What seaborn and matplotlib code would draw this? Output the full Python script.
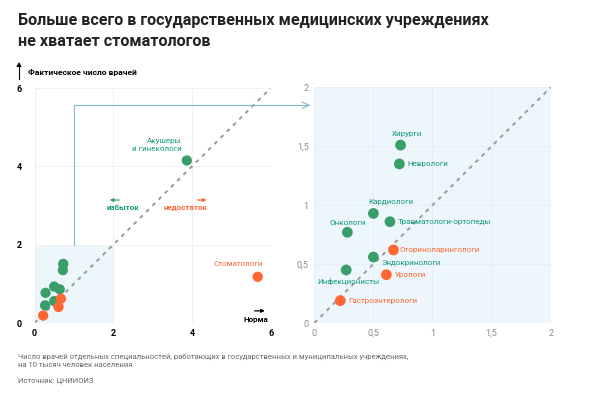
import pandas as pd
import numpy as np
import matplotlib.pyplot as plt
import seaborn as sns

sns.set_theme(style="white")
plt.rcParams['font.family'] = ['Roboto', 'DejaVu Sans']

# данные: норма (x) и фактическое число врачей (y) на 10 тыс. населения
names = ['Хирурги', 'Неврологи', 'Кардиологи', 'Травматологи-ортопеды', 'Онкологи',
         'Эндокринологи', 'Инфекционисты', 'Акушеры\nи гинекологи',
         'Оториноларингологи', 'Урологи', 'Гастроэнтерологи', 'Стоматологи']
norm = [0.73, 0.72, 0.50, 0.64, 0.28, 0.50, 0.27, 3.87, 0.67, 0.61, 0.22, 5.67]
actual = [1.51, 1.35, 0.93, 0.86, 0.77, 0.56, 0.45, 4.15, 0.62, 0.41, 0.19, 1.18]
status = ['избыток'] * 8 + ['недостаток'] * 4

left_ticks = [0, 2, 4, 6]
right_ticks = [0, 0.5, 1, 1.5, 2]
right_ticklabels = ['0', '0,5', '1', '1,5', '2']

title = 'Больше всего в государственных медицинских учреждениях\nне хватает стоматологов'
note = ('Число врачей отдельных специальностей, работающих в государственных и муниципальных учреждениях,\n'
        'на 10 тысяч человек населения.')
source = 'Источник: ЦНИИОИЗ'

df = pd.DataFrame({'Специальность': names, 'Норма': norm, 'Факт': actual, 'Статус': status})

palette = {'избыток': '#3a9e6a', 'недостаток': '#ff6633'}
text_color = {'избыток': '#13987a', 'недостаток': '#ff6633'}
light_blue = '#edf6fb'
link_color = '#7bbccc'

fig = plt.figure(figsize=(6.13, 3.94), dpi=100)
ax1 = fig.add_axes([0.0563, 0.1802, 0.3853, 0.5964])
ax2 = fig.add_axes([0.5127, 0.1802, 0.3856, 0.598])


def style_axes(ax, lim, ticks, labels, color, weight, grid_color, xpad, ypad):
    ax.set_xlim(0, lim)
    ax.set_ylim(0, lim)
    ax.set_xticks(ticks)
    ax.set_yticks(ticks)
    ax.set_xticklabels(labels, color=color, fontsize=6.5, fontweight=weight)
    ax.set_yticklabels(labels, color=color, fontsize=6.5, fontweight=weight)
    ax.tick_params(axis='x', length=0, pad=xpad)
    ax.tick_params(axis='y', length=0, pad=ypad)
    for s in ax.spines.values():
        s.set_visible(False)
    ax.grid(True, color=grid_color, lw=0.6)
    ax.set_axisbelow(True)
    ax.set_xlabel('')
    ax.set_ylabel('')


# левая панель
ax1.set_facecolor('white')
ax1.add_patch(plt.Rectangle((0, 0), 2, 2, color=light_blue, zorder=0, lw=0))
ax1.plot([0, 6], [0, 6], color='#9a9a9a', ls=(0, (2, 2.5)), lw=1.4, zorder=1)
sns.scatterplot(df, x='Норма', y='Факт', hue='Статус', palette=palette, s=55,
                edgecolor='none', legend=False, ax=ax1, zorder=3)
style_axes(ax1, 6, left_ticks, [str(t) for t in left_ticks], 'black', 'bold', '#eeeeee', 4, 9)

# связь с правой панелью
ax1.plot([1, 1, 6.95], [2, 5.56, 5.56], color=link_color, lw=0.8, clip_on=False, zorder=2)
ax1.annotate('', xy=(7.07, 5.56), xytext=(6.9, 5.56), annotation_clip=False,
             arrowprops=dict(arrowstyle='->', color=link_color, lw=0.8))

ax1.annotate('', xy=(1.84, 3.14), xytext=(2.22, 3.14),
             arrowprops=dict(arrowstyle='-|>', color=palette['избыток'], lw=0.9, mutation_scale=5))
ax1.text(2.26, 2.94, 'избыток', color=text_color['избыток'], fontsize=5.8, fontweight='bold',
         ha='center', va='center')
ax1.annotate('', xy=(4.44, 3.14), xytext=(4.06, 3.14),
             arrowprops=dict(arrowstyle='-|>', color=palette['недостаток'], lw=0.9, mutation_scale=5))
ax1.text(3.84, 2.94, 'недостаток', color=text_color['недостаток'], fontsize=5.8, fontweight='bold',
         ha='center', va='center')
ax1.annotate('', xy=(5.92, 0.31), xytext=(5.52, 0.31),
             arrowprops=dict(arrowstyle='-|>', color='black', lw=0.9, mutation_scale=5))
ax1.text(5.94, 0.08, 'Норма', color='black', fontsize=5.8, fontweight='bold', ha='right', va='center')

ax1.text(3.74, 4.54, 'Акушеры\nи гинекологи', color=text_color['избыток'], fontsize=5.8,
         ha='right', va='center', linespacing=1.3)
ax1.text(5.81, 1.5, 'Стоматологи', color=text_color['недостаток'], fontsize=5.8,
         ha='right', va='center')

# правая панель (увеличенный фрагмент 0–2)
ax2.set_facecolor(light_blue)
ax2.plot([0, 2], [0, 2], color='#9a9a9a', ls=(0, (2, 2.5)), lw=1.4, zorder=1)
small = df[(df['Норма'] < 2) & (df['Факт'] < 2)]
sns.scatterplot(small, x='Норма', y='Факт', hue='Статус', palette=palette, s=60,
                edgecolor='none', legend=False, ax=ax2, zorder=3)
style_axes(ax2, 2, right_ticks, right_ticklabels, '#8a8a8a', 'normal', '#e3edf2', 4, 4)

labels_right = {
    'Хирурги': (0.78, 1.605, 'center'),
    'Неврологи': (0.79, 1.35, 'left'),
    'Кардиологи': (0.65, 1.03, 'center'),
    'Травматологи-ортопеды': (0.705, 0.86, 'left'),
    'Онкологи': (0.283, 0.85, 'center'),
    'Оториноларингологи': (0.725, 0.62, 'left'),
    'Эндокринологи': (0.564, 0.51, 'left'),
    'Инфекционисты': (0.288, 0.353, 'center'),
    'Урологи': (0.677, 0.41, 'left'),
    'Гастроэнтерологи': (0.29, 0.19, 'left'),
}
for _, row in small.iterrows():
    tx, ty, ha = labels_right[row['Специальность']]
    ax2.text(tx, ty, row['Специальность'], color=text_color[row['Статус']], fontsize=5.8,
             ha=ha, va='center')

# заголовки и подписи
fig.text(0.029, 0.968, title, fontsize=11.6, fontweight='bold', color='#222222',
         ha='left', va='top', linespacing=1.55)
fig.text(0.046, 0.815, 'Фактическое число врачей', fontsize=6.1, fontweight='bold',
         color='black', ha='left', va='center')
fig.add_artist(plt.Line2D([0.031, 0.031], [0.8, 0.84], color='black', lw=0.8))
fig.add_artist(plt.Polygon([[0.0265, 0.83], [0.0355, 0.83], [0.031, 0.842]], closed=True,
                           color='black', lw=0))
fig.text(0.029, 0.085, note, fontsize=5.5, color='#666666', ha='left', va='center', linespacing=1.4)
fig.text(0.029, 0.033, source, fontsize=5.5, color='#666666', ha='left', va='center')

plt.savefig('out.png', dpi=100)
